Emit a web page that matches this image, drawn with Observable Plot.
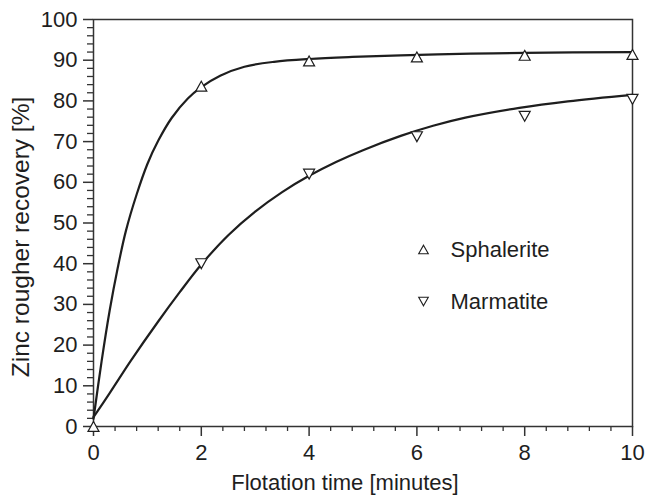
<!DOCTYPE html>
<html><head><meta charset="utf-8">
<script src="https://cdn.jsdelivr.net/npm/d3@7"></script>
<script src="https://cdn.jsdelivr.net/npm/@observablehq/plot@0.6"></script>
<style>
html,body{margin:0;padding:0;background:#fff;}
#chart svg{display:block;}
</style></head><body><div id="chart"></div>
<script>
// Measured points
const sphaleriteTime = [0, 2, 4, 6, 8, 10];
const sphaleriteRecovery = [0, 83.6, 89.8, 90.8, 91.2, 91.4];
const marmatiteTime = [2, 4, 6, 8, 10];
const marmatiteRecovery = [40.0, 62.0, 71.2, 76.2, 80.4];

// Fitted curves
const sphaleriteFitTime = [0, 0.15, 0.3, 0.45, 0.6, 0.8, 1.0, 1.2, 1.45, 1.75, 2.0, 2.35, 2.8, 3.35, 4.0, 4.8, 5.7, 7, 8, 10];
const sphaleriteFitRecovery = [1.9, 16, 28.5, 39, 48, 57, 64.5, 70.2, 75.8, 80.6, 83.4, 86.2, 88.4, 89.6, 90.3, 90.8, 91.2, 91.6, 91.8, 92.0];
const marmatiteFitTime = [0, 0.3, 0.7, 1.2, 1.6, 2.0, 2.5, 3.0, 3.5, 4.0, 4.5, 5.0, 5.7, 6.3, 6.9, 7.9, 8.8, 10];
const marmatiteFitRecovery = [2.3, 8.2, 16.3, 25.8, 33.0, 39.8, 47.0, 52.8, 57.6, 61.6, 65.0, 67.9, 71.4, 73.9, 75.9, 78.3, 79.9, 81.5];

// Ticks and labels
const xTicks = [0, 2, 4, 6, 8, 10];
const xMinorTicks = [0.4, 0.8, 1.2, 1.6, 2.4, 2.8, 3.2, 3.6, 4.4, 4.8, 5.2, 5.6, 6.4, 6.8, 7.2, 7.6, 8.4, 8.8, 9.2, 9.6];
const yTicks = [0, 10, 20, 30, 40, 50, 60, 70, 80, 90, 100];
const yMinorTicks = [2,4,6,8,12,14,16,18,22,24,26,28,32,34,36,38,42,44,46,48,52,54,56,58,62,64,66,68,72,74,76,78,82,84,86,88,92,94,96,98];
const seriesNames = ["Sphalerite", "Marmatite"];
const xTitle = "Flotation time [minutes]";
const yTitle = "Zinc rougher recovery [%]";

const sphaleriteData = sphaleriteTime.map((t, i) => ({t, v: sphaleriteRecovery[i]}));
const marmatiteData = marmatiteTime.map((t, i) => ({t, v: marmatiteRecovery[i]}));
const sphaleriteFit = sphaleriteFitTime.map((t, i) => ({t, v: sphaleriteFitRecovery[i]}));
const marmatiteFit = marmatiteFitTime.map((t, i) => ({t, v: marmatiteFitRecovery[i]}));

// Open triangle symbols (bounding-box centred)
function tri(up) {
  return {
    draw(ctx, size) {
      const r = Math.sqrt(size / Math.PI);
      const w = r, h = r * 0.9;
      const s = up ? 1 : -1;
      ctx.moveTo(0, -s * h);
      ctx.lineTo(w, s * h);
      ctx.lineTo(-w, s * h);
      ctx.closePath();
    }
  };
}
const triUp = tri(true), triDown = tri(false);

const ink = "#1e1e1e";
const font = "'Liberation Sans', Arial, Helvetica, sans-serif";

const chart = Plot.plot({
  width: 645,
  height: 499,
  marginLeft: 93,
  marginRight: 13,
  marginTop: 19,
  marginBottom: 73,
  style: {fontFamily: font, fontSize: "22px", color: ink, background: "#fff"},
  x: {domain: [0, 10]},
  y: {domain: [0, 100]},
  marks: [
    Plot.axisX(xMinorTicks, {tickSize: 5, fill: "none", stroke: "#333", strokeWidth: 1.3, label: null}),
    Plot.axisX(xTicks, {tickSize: 10, tickPadding: 8, stroke: "#333", strokeWidth: 1.5, fill: ink, label: null, tickFormat: d => String(d)}),
    Plot.axisY(yMinorTicks, {tickSize: 6, fill: "none", stroke: "#333", strokeWidth: 1.3, label: null}),
    Plot.axisY(yTicks, {tickSize: 10, tickPadding: 6, stroke: "#333", strokeWidth: 1.5, fill: ink, label: null, tickFormat: d => String(d)}),
    Plot.frame({stroke: "#333", strokeWidth: 1.5}),
    Plot.line(sphaleriteFit, {x: "t", y: "v", curve: "catmull-rom", stroke: ink, strokeWidth: 2.2}),
    Plot.line(marmatiteFit, {x: "t", y: "v", curve: "catmull-rom", stroke: ink, strokeWidth: 2.2}),
    Plot.dot(sphaleriteData, {x: "t", y: "v", symbol: triUp, r: 5.5, fill: "white", stroke: ink, strokeWidth: 1.2}),
    Plot.dot(marmatiteData, {x: "t", y: "v", symbol: triDown, r: 5.5, fill: "white", stroke: ink, strokeWidth: 1.2}),
    // legend
    Plot.dot([seriesNames[0]], {frameAnchor: "top-left", dx: 330, dy: 230, symbol: triUp, r: 4.8, fill: "white", stroke: ink, strokeWidth: 1.1}),
    Plot.dot([seriesNames[1]], {frameAnchor: "top-left", dx: 330, dy: 282, symbol: triDown, r: 4.8, fill: "white", stroke: ink, strokeWidth: 1.1}),
    Plot.text([seriesNames[0]], {frameAnchor: "top-left", dx: 357, dy: 230, text: d => d, textAnchor: "start", lineAnchor: "middle", fontSize: 22, fill: ink}),
    Plot.text([seriesNames[1]], {frameAnchor: "top-left", dx: 357, dy: 282, text: d => d, textAnchor: "start", lineAnchor: "middle", fontSize: 22, fill: ink}),
    // axis titles
    Plot.text([xTitle], {frameAnchor: "bottom", dx: -18, dy: 56, text: d => d, textAnchor: "middle", lineAnchor: "middle", fontSize: 22, fill: ink}),
    Plot.text([yTitle], {frameAnchor: "left", dx: -72, dy: 14, rotate: -90, text: d => d, textAnchor: "middle", lineAnchor: "middle", fontSize: 24.5, fill: ink})
  ]
});
document.getElementById("chart").appendChild(chart);
</script>
</body></html>
